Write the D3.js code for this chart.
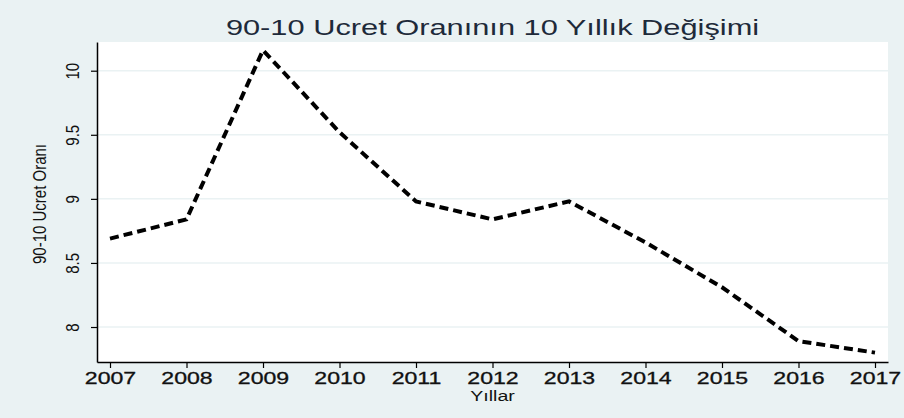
<!DOCTYPE html>
<html>
<head>
<meta charset="utf-8">
<script src="https://cdn.jsdelivr.net/npm/d3@7"></script>
<style>
  body { margin: 0; background: #eaf2f3; }
  svg { display: block; }
</style>
</head>
<body>
<div id="chart"></div>
<script>
const width = 904;
const height = 418;

// Data
const years = [2007, 2008, 2009, 2010, 2011, 2012, 2013, 2014, 2015, 2016, 2017];
const ratios = [8.69, 8.84, 10.16, 9.52, 8.98, 8.84, 8.98, 8.66, 8.31, 7.89, 7.80];
const yTicks = [8, 8.5, 9, 9.5, 10];

const margin = { top: 42, right: 16, bottom: 56, left: 97 };
const font = "Liberation Sans, Arial, sans-serif";
const stretch = 1.4; // the original graph is widened horizontally

const svg = d3.select("#chart")
  .append("svg")
  .attr("width", width)
  .attr("height", height);

// outer background
svg.append("rect")
  .attr("width", width)
  .attr("height", height)
  .attr("fill", "#eaf2f3");

const x = d3.scaleLinear()
  .domain([2006.83, 2017.17])
  .range([margin.left, width - margin.right]);

const y = d3.scaleLinear()
  .domain([7.727, 10.224])
  .range([height - margin.bottom, margin.top]);

// plot region
svg.append("rect")
  .attr("x", margin.left)
  .attr("y", margin.top)
  .attr("width", width - margin.right - margin.left)
  .attr("height", height - margin.bottom - margin.top)
  .attr("fill", "white");

// gridlines
svg.append("g")
  .selectAll("line")
  .data(yTicks)
  .join("line")
  .attr("x1", margin.left)
  .attr("x2", width - margin.right)
  .attr("y1", d => y(d))
  .attr("y2", d => y(d))
  .attr("stroke", "#eaf2f3")
  .attr("stroke-width", 1.5);

// x axis
const xAxis = svg.append("g")
  .attr("transform", `translate(0,${height - margin.bottom})`)
  .call(d3.axisBottom(x).tickValues(years).tickFormat(d3.format("d")).tickSize(6).tickSizeOuter(0).tickPadding(4));

xAxis.select(".domain").attr("stroke", "#000").attr("stroke-width", 1.5);
xAxis.selectAll(".tick line").attr("stroke", "#000").attr("stroke-width", 1.2);
xAxis.selectAll("text")
  .attr("font-family", font)
  .attr("font-size", "16.5px")
  .attr("fill", "#111")
  .attr("stroke", "#111")
  .attr("stroke-width", 0.3)
  .attr("transform", `scale(${stretch},1)`);

// y axis
const yAxis = svg.append("g")
  .attr("transform", `translate(${margin.left},0)`)
  .call(d3.axisLeft(y).tickValues(yTicks).tickFormat(d => d).tickSize(6).tickSizeOuter(0));

yAxis.select(".domain").attr("stroke", "#000").attr("stroke-width", 1.5);
yAxis.selectAll(".tick line").attr("stroke", "#000").attr("stroke-width", 1.2);
yAxis.selectAll("text")
  .attr("font-family", font)
  .attr("font-size", "15px")
  .attr("fill", "#111")
  .attr("text-anchor", "middle")
  .attr("x", null)
  .attr("transform", "translate(-25,0) scale(1.25,1) rotate(-90)")
  .attr("dy", "0.36em");

// the line
const line = d3.line()
  .x((d, i) => x(years[i]))
  .y(d => y(d));

svg.append("path")
  .datum(ratios)
  .attr("d", line)
  .attr("fill", "none")
  .attr("stroke", "#000")
  .attr("stroke-width", 4)
  .attr("stroke-dasharray", "9,5");

// title
svg.append("text")
  .attr("transform", `translate(${(margin.left + width - margin.right) / 2},35) scale(${stretch},1)`)
  .attr("text-anchor", "middle")
  .attr("font-family", font)
  .attr("font-size", "22px")
  .attr("fill", "#1e2a3a")
  .text("90-10 Ucret Oranının 10 Yıllık Değişimi");

// axis titles
svg.append("text")
  .attr("transform", `translate(${(margin.left + width - margin.right) / 2},401) scale(${stretch},1)`)
  .attr("text-anchor", "middle")
  .attr("font-family", font)
  .attr("font-size", "14px")
  .attr("fill", "#111")
  .text("Yıllar");

svg.append("text")
  .attr("transform", `translate(46,${(margin.top + height - margin.bottom) / 2 + 2}) scale(1.3,1) rotate(-90)`)
  .attr("text-anchor", "middle")
  .attr("font-family", "Liberation Sans Narrow, Liberation Sans, Arial, sans-serif")
  .attr("font-size", "14px")
  .attr("fill", "#111")
  .attr("textLength", 120)
  .attr("lengthAdjust", "spacingAndGlyphs")
  .text("90-10 Ucret Oranı");
</script>
</body>
</html>
